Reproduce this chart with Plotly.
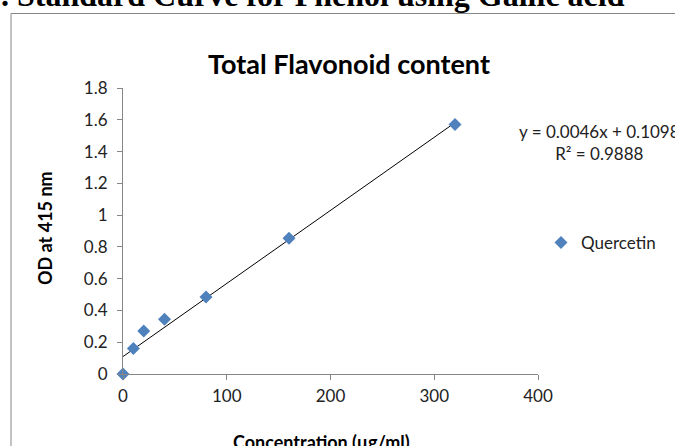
import plotly.graph_objects as go
import numpy as np

# Data
concentration = [0, 10, 20, 40, 80, 160, 320]
od_values = [0.0, 0.16, 0.27, 0.345, 0.485, 0.855, 1.57]
slope = 0.0046
intercept = 0.1098
r_squared = 0.9888
x_ticks = [0, 100, 200, 300, 400]
y_ticks = [0, 0.2, 0.4, 0.6, 0.8, 1, 1.2, 1.4, 1.6, 1.8]

W, H = 675, 446
L, R, T, B = 123, 538, 88, 374  # plot area in px


def px_x(p):
    return (p - L) / (R - L)


def px_y(p):
    return (B - p) / (B - T)


FONT = "Lato, 'Open Sans', Arial, sans-serif"

trend_x = np.array([min(concentration), max(concentration)])
trend_y = slope * trend_x + intercept

fig = go.Figure()
fig.add_trace(go.Scatter(
    x=trend_x, y=trend_y, mode="lines",
    line=dict(color="black", width=1),
    showlegend=False, hoverinfo="skip",
))
fig.add_trace(go.Scatter(
    x=concentration, y=od_values, mode="markers", name="Quercetin",
    marker=dict(symbol="diamond", size=10, color="#4F81BD"),
    cliponaxis=False,
))

fig.update_layout(
    width=W, height=H,
    margin=dict(l=L, r=W - R, t=T, b=H - B),
    paper_bgcolor="white", plot_bgcolor="white",
    font=dict(family=FONT, size=17, color="#222222"),
    showlegend=True,
    legend=dict(
        x=px_x(541), y=px_y(243), xanchor="left", yanchor="middle",
        bgcolor="rgba(0,0,0,0)", font=dict(size=17, family=FONT),
    ),
    xaxis=dict(
        range=[0, 400], tickvals=x_ticks, showgrid=False, zeroline=False,
        showline=True, linecolor="#868686", linewidth=1,
        ticks="outside", ticklen=5, tickcolor="#868686",
        tickfont=dict(size=17, family=FONT, color="#222222"),
        ticklabelstandoff=2,
        fixedrange=True,
    ),
    yaxis=dict(
        range=[0, 1.8], tickvals=y_ticks, showgrid=False, zeroline=False,
        showline=True, linecolor="#868686", linewidth=1,
        ticks="outside", ticklen=5, tickcolor="#868686",
        tickfont=dict(size=17, family=FONT, color="#222222"),
        ticklabelstandoff=6,
        fixedrange=True,
    ),
    shapes=[dict(
        type="rect", xref="paper", yref="paper",
        x0=px_x(11), x1=px_x(700), y0=px_y(470), y1=px_y(13.5),
        line=dict(color="#868686", width=1), fillcolor="rgba(0,0,0,0)",
        layer="below",
    )],
    annotations=[
        dict(text="<b>. Standard Curve for Phenol using Gallic acid</b>",
             xref="paper", yref="paper", x=px_x(-1), y=px_y(-5),
             xanchor="left", yanchor="middle", showarrow=False,
             font=dict(family="'Liberation Serif', 'Times New Roman', serif", size=32, color="black")),
        dict(text="<b>Total Flavonoid content</b>",
             xref="paper", yref="paper", x=px_x(348.5), y=px_y(64),
             xanchor="center", yanchor="middle", showarrow=False,
             font=dict(family=FONT, size=27, color="black")),
        dict(text="<b>OD at 415 nm</b>",
             xref="paper", yref="paper", x=px_x(45), y=px_y(228),
             xanchor="center", yanchor="middle", showarrow=False, textangle=-90,
             font=dict(family=FONT, size=18, color="black")),
        dict(text="<b>Concentration (μg/ml)</b>",
             xref="paper", yref="paper", x=px_x(321), y=px_y(442),
             xanchor="center", yanchor="middle", showarrow=False,
             font=dict(family=FONT, size=18, color="black")),
        dict(text=f"y = {slope}x + {intercept}<br>R² = {r_squared}",
             xref="paper", yref="paper", x=px_x(599), y=px_y(142),
             xanchor="center", yanchor="middle", showarrow=False, align="center",
             font=dict(family=FONT, size=17, color="#222222")),
    ],
)

fig.write_html(
    "out.html",
    config={"displayModeBar": False},
    post_script="document.body.style.margin='0';document.body.style.overflow='hidden';",
)
